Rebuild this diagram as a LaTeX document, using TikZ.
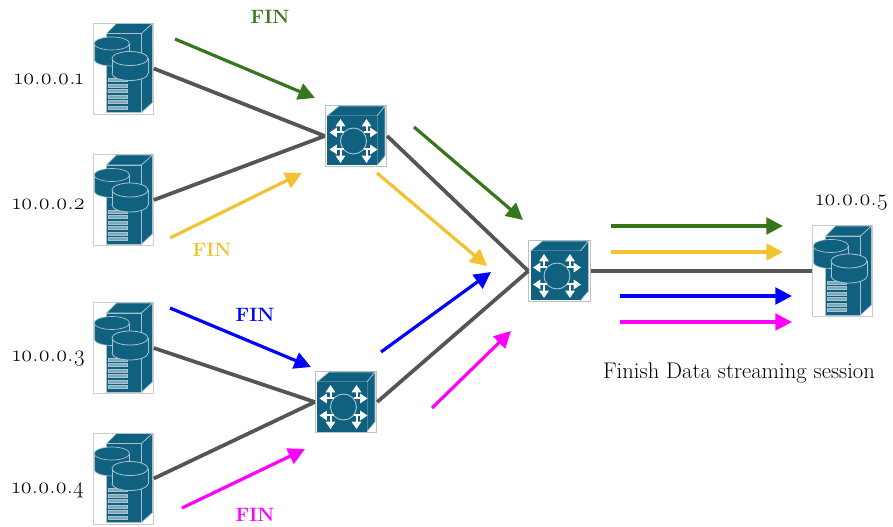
\documentclass[tikz,border=0pt]{standalone}
\usepackage{fontspec}
\setmainfont{Latin Modern Roman}[Numbers=OldStyle]
\usetikzlibrary{arrows.meta, positioning}
\definecolor{icon}{HTML}{10607F}
\definecolor{iconline}{HTML}{A9C4D0}
\definecolor{finGreen}{HTML}{38761D}
\definecolor{finYellow}{HTML}{F1C232}
\definecolor{finBlue}{HTML}{0000FF}
\definecolor{finPink}{HTML}{FF00FF}
\definecolor{link}{HTML}{555555}
\begin{document}
\begin{tikzpicture}[
        x=0.75pt, y=-0.75pt,
        serverbox/.style={draw=black!20, fill=white, inner sep=0, minimum width=45pt, minimum height=68pt},
        switchbox/.style={draw=black!25, line width=0.8pt, fill=white, inner sep=0, minimum width=46pt, minimum height=46pt},
        ipnum/.style={font=\fontsize{17}{19}\selectfont},
        fin/.style={font=\fontsize{14.5}{16}\selectfont\bfseries},
        wire/.style={link, line width=2.8pt},
        flow/.style={line width=2.4pt, -{Triangle[length=12.5pt, width=12.5pt]}},
        servericon/.pic={
            \draw[iconline, line width=0.5pt, fill=icon] (-17,-35) -- (-7,-45) -- (29,-45) -- (18,-35) -- cycle;
            \draw[iconline, line width=0.5pt, fill=icon] (-17,-35) rectangle (18,44);
            \draw[iconline, line width=0.5pt, fill=icon] (18,-35) -- (29,-45) -- (29,34) -- (18,44) -- cycle;
            \foreach \y in {10,15.5,21,26.5,32,37.5}
                \draw[iconline, fill=icon!55!white, line width=0.4pt] (-15,\y) rectangle (4,\y+3);
            % Disks
            \draw[iconline, line width=0.5pt, fill=icon] (-11.7,-9) ellipse[x radius=17.7, y radius=6.5];
            \fill[icon] (-29.4,-25) rectangle (6,-9);
            \draw[iconline, line width=0.5pt] (-29.4,-25) -- (-29.4,-9) (6,-25) -- (6,-9);
            \draw[iconline, line width=0.5pt, fill=icon] (-11.7,-25) ellipse[x radius=17.7, y radius=6.5];
            \draw[iconline, line width=0.6pt, fill=icon] (6.5,5) ellipse[x radius=18, y radius=7];
            \fill[icon] (-11.5,-10) rectangle (24.5,5);
            \draw[iconline, line width=0.6pt] (-11.5,-10) -- (-11.5,5) (24.5,-10) -- (24.5,5);
            \draw[iconline, line width=0.6pt, fill=icon] (6.5,-10) ellipse[x radius=18, y radius=7];
        },
        switchicon/.pic={
            \draw[iconline, line width=0.5pt, fill=icon] (-29,-20) -- (-17,-30) -- (29,-30) -- (21,-20) -- cycle;
            \draw[iconline, line width=0.5pt, fill=icon] (21,-20) -- (29,-30) -- (29,20) -- (21,29.5) -- cycle;
            \fill[icon] (-29,-20) rectangle (21,29.5);
            \draw[iconline, line width=0.7pt] (-2.5,5) circle[radius=13];
            \foreach \sx in {-1,1}
                \foreach \sy in {-1,1} {
                    \draw[white, line width=1.5pt, -{Triangle[length=5.5pt, width=7pt]}] (-2.5+\sx*13,5+\sy*8.5) -- (-2.5+\sx*13,5+\sy*22);
                    \draw[white, line width=1.5pt, -{Triangle[length=5.5pt, width=7pt]}] (-2.5+\sx*10,5+\sy*8.5) -- (-2.5+\sx*24,5+\sy*8.5);
                }
        }
    ]
        \useasboundingbox (0,0) rectangle (893,527);

        % Servers and switches
        \node[serverbox] (serverA) at (123.5,68.5) {};
        \node[serverbox] (serverB) at (123.5,200) {};
        \node[serverbox] (serverC) at (123.5,348) {};
        \node[serverbox] (serverD) at (123.5,478.5) {};
        \node[serverbox] (serverE) at (842.5,271) {};
        \node[switchbox] (switchA) at (356,136) {};
        \node[switchbox] (switchB) at (346,402) {};
        \node[switchbox] (switchC) at (559.5,271) {};
        \foreach \n in {serverA,serverB,serverC,serverD,serverE}
            \pic at (\n) {servericon};
        \foreach \n in {switchA,switchB,switchC}
            \pic at (\n) {switchicon};

        % Links
        \draw[wire] (serverA.east) -- (switchA.west);
        \draw[wire] (serverB.east) -- (switchA.west);
        \draw[wire] (serverC.east) -- (switchB.west);
        \draw[wire] (serverD.east) -- (switchB.west);
        \draw[wire] (switchA.east) -- (switchC.west);
        \draw[wire] (switchB.east) -- (switchC.west);
        \draw[wire] (switchC.east) -- (serverE.west);

        % Flows
        \foreach \n/\c/\xa/\ya/\xb/\yb in {
            a/finGreen/175/39/315/98, b/finYellow/170/238/302/173,
            c/finBlue/170/308/311/367, d/finPink/182/508/305/449,
            e/finGreen/414/127/523/220, f/finYellow/377/173/487/266,
            g/finBlue/381/352/491/272, h/finPink/432/408/511/331,
            i/finGreen/611/226/783/226, j/finYellow/611/252/783/252,
            k/finBlue/620/296/792/296, l/finPink/620/322/792/322} {
            \coordinate (flow\n s) at (\xa,\ya);
            \coordinate (flow\n e) at (\xb,\yb);
            \draw[flow, \c] (flow\n s) -- (flow\n e);
        }

        % Labels
        \node[ipnum] (ipA) at (49,79) {10.0.0.1};
        \node[ipnum] (ipB) at (49,204) {10.0.0.2};
        \node[ipnum] (ipC) at (49,359) {10.0.0.3};
        \node[ipnum] (ipD) at (48,490) {10.0.0.4};
        \node[ipnum] (ipE) at (852,203) {10.0.0.5};
        \node[fin, finGreen] (finA) at (270,17) {FIN};
        \node[fin, finYellow] (finB) at (212,250) {FIN};
        \node[fin, finBlue] (finC) at (255,315) {FIN};
        \node[fin, finPink] (finD) at (255,515) {FIN};
        \node[ipnum] (caption) at (739,373) {Finish Data streaming session};
    \end{tikzpicture}
\end{document}
